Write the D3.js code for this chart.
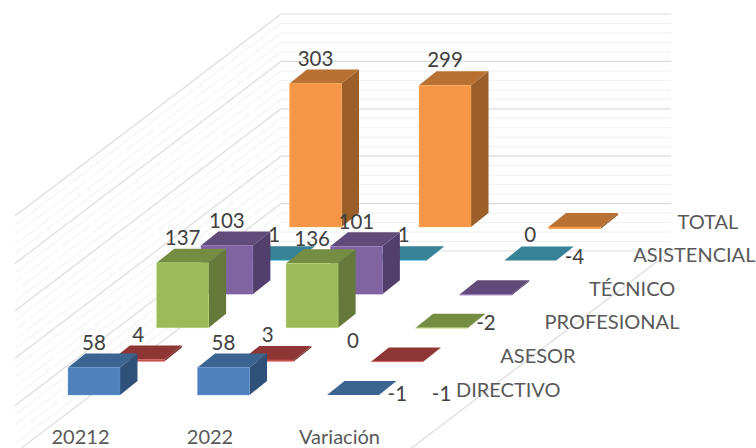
<!DOCTYPE html>
<html>
<head>
<meta charset="utf-8">
<script src="https://cdn.jsdelivr.net/npm/d3@7"></script>
<style>
  html, body { margin: 0; background: #fff; }
  svg { display: block; }
  text { font-family: Lato, "Open Sans", sans-serif; }
</style>
</head>
<body>
<div id="chart"></div>
<script>
// data
const categories = ['20212', '2022', 'Variación'];
const seriesNames = ['DIRECTIVO', 'ASESOR', 'PROFESIONAL', 'TÉCNICO', 'ASISTENCIAL', 'TOTAL'];
const directivo = [58, 58, 0];
const asesor = [4, 3, -1];
const profesional = [137, 136, -1];
const tecnico = [103, 101, -2];
const asistencial = [1, 1, 0];
const total = [303, 299, -4];
const seriesValues = [directivo, asesor, profesional, tecnico, asistencial, total];

const config = {
  WIDTH: 756,
  HEIGHT: 448,
  BAR_WIDTH: 52,
  BAR_DX: 17.5,
  BAR_DY: -14,
  LABEL_GAP: 11
};

// front, top, side
const colours = [
  ['#4f81bd', '#3b6491', '#2f5079'],
  ['#c0504d', '#8e3635', '#7a2e2d'],
  ['#9bbb59', '#758d43', '#65793a'],
  ['#8064a2', '#604b7a', '#533f6b'],
  ['#4bacc6', '#368296', '#2f7082'],
  ['#f79646', '#b97033', '#9c5f2a']
];

// hand placed labels of the last column, Excel moved them away from the bars
const variationLabelDrop = [-54, 32, 66, 29, -26, 30];

const svg = d3.select('#chart').append('svg')
  .attr('width', config.WIDTH)
  .attr('height', config.HEIGHT);

// scales
const yValue = d3.scaleLinear().domain([-100, 400]).range([251, 14]);
const xCategory = d3.scaleLinear().domain([0, 2]).range([68, 327]);
const xSeries = d3.scaleLinear().domain([0, 5]).range([0, 221.5]);
const ySeries = d3.scaleLinear().domain([0, 5]).range([395, 227]);
const unit = v => yValue(0) - yValue(v);

/* Walls */
const wall = { left: 281, right: 671, frontX: 15, frontDrop: 202 };
const gridValues = d3.range(-100, 401, 20);
const isMajor = v => v % 100 === 0;

const grid = svg.append('g').attr('fill', 'none');
grid.selectAll('.back')
  .data(gridValues)
  .enter().append('line')
  .attr('class', 'back')
  .attr('x1', wall.left).attr('x2', wall.right)
  .attr('y1', v => yValue(v)).attr('y2', v => yValue(v));
grid.selectAll('.side')
  .data(gridValues)
  .enter().append('line')
  .attr('class', 'side')
  .attr('x1', wall.left).attr('x2', wall.frontX)
  .attr('y1', v => yValue(v)).attr('y2', v => yValue(v) + wall.frontDrop);
grid.selectAll('line')
  .attr('stroke', v => isMajor(v) ? '#dcdcdc' : '#f0f0f0')
  .attr('stroke-width', v => isMajor(v) ? 1.2 : 1);
grid.append('line')
  .attr('x1', wall.right).attr('x2', wall.right - (wall.left - wall.frontX))
  .attr('y1', yValue(-100)).attr('y2', yValue(-100) + wall.frontDrop)
  .attr('stroke', '#dcdcdc')
  .attr('stroke-width', 1.2);

/* Bars, back to front */
const poly = pts => pts.map(p => p.join(',')).join(' ');
const bars = svg.append('g');

d3.range(seriesNames.length - 1, -1, -1).forEach(s => {
  const g = bars.append('g').attr('class', 'series');
  seriesValues[s].forEach((v, c) => {
    const x = xCategory(c) + xSeries(s);
    const base = ySeries(s);
    const end = base - unit(v);
    const top = Math.min(base, end);
    const bottom = Math.max(base, end);
    const w = config.BAR_WIDTH, dx = config.BAR_DX, dy = config.BAR_DY;

    g.append('polygon')
      .attr('points', poly([[x + w, top], [x + w + dx, top + dy], [x + w + dx, bottom + dy], [x + w, bottom]]))
      .attr('fill', colours[s][2]);
    g.append('polygon')
      .attr('points', poly([[x, top], [x + dx, top + dy], [x + w + dx, top + dy], [x + w, top]]))
      .attr('fill', colours[s][1]);
    g.append('rect')
      .attr('x', x).attr('y', top)
      .attr('width', w).attr('height', bottom - top)
      .attr('fill', colours[s][0])
      .attr('stroke', d3.color(colours[s][0]).brighter(0.6))
      .attr('stroke-opacity', 0.5)
      .attr('stroke-width', 0.7);
  });
});

/* Data labels */
const labels = svg.append('g')
  .attr('fill', '#404040')
  .attr('font-size', 20.5)
  .attr('text-anchor', 'middle');

seriesValues.forEach((values, s) => {
  values.forEach((v, c) => {
    // the two small ASISTENCIAL labels sit a little to the right
    const nudge = (s === 4 && c < 2) ? 3 : 0;
    const x = xCategory(c) + xSeries(s) + config.BAR_WIDTH / 2 + nudge;
    const base = ySeries(s);
    const y = c === 2
      ? base + variationLabelDrop[s]
      : base - unit(v) + config.BAR_DY - config.LABEL_GAP;
    labels.append('text')
      .attr('x', x)
      .attr('y', y)
      .attr('dy', '0.35em')
      .text(v);
  });
});

/* Category and series axis labels */
svg.append('g').selectAll('text')
  .data(categories)
  .enter().append('text')
  .attr('x', (d, i) => xCategory(i) + 12.5)
  .attr('y', 437)
  .attr('dy', '0.35em')
  .attr('text-anchor', 'middle')
  .attr('font-size', 20)
  .attr('fill', '#595959')
  .text(d => d);

svg.append('g').selectAll('text')
  .data(seriesNames)
  .enter().append('text')
  .attr('x', (d, i) => xCategory(2) + xSeries(i) + 129)
  .attr('y', (d, i) => ySeries(i) - 5.5)
  .attr('dy', '0.35em')
  .attr('font-size', 20)
  .attr('fill', '#595959')
  .text(d => d);
</script>
</body>
</html>
